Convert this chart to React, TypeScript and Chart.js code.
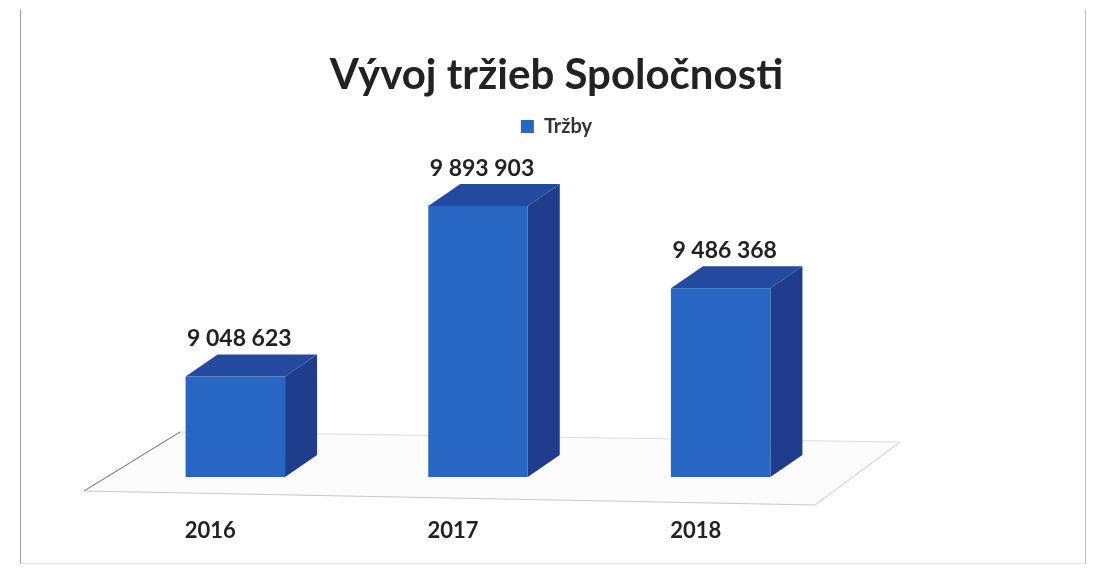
import React, { useEffect, useRef } from 'react';
import { Chart, registerables } from 'chart.js';

Chart.register(...registerables);

const titleText = 'Vývoj tržieb Spoločnosti';
const seriesLabel = 'Tržby';
const categories = ['2016', '2017', '2018'];
const revenue = [9048623, 9893903, 9486368];
const yMin = 8550000;
const yMax = 10190000;

const FRONT = '#2766c2';
const SIDE = '#1f3d8c';
const TOP = '#244a9f';
const DX = 32;
const DY = 22;

const fmt = (v: number) => String(v).replace(/\B(?=(\d{3})+(?!\d))/g, ' ');

const bar3dPlugin = {
  id: 'bar3d',
  beforeDatasetsDraw(chart: any) {
    const ctx = chart.ctx;
    const { left: L, right: R, bottom: B } = chart.chartArea;
    const fl = [L - 30, B + 14];
    const fr = [R - 27, B + 28];
    const br = [R + 58, B - 35];
    const bl = [L + 66, B - 45];
    ctx.save();
    ctx.beginPath();
    ctx.moveTo(fl[0], fl[1]);
    ctx.lineTo(fr[0], fr[1]);
    ctx.lineTo(br[0], br[1]);
    ctx.lineTo(bl[0], bl[1]);
    ctx.closePath();
    ctx.fillStyle = '#fcfcfc';
    ctx.fill();
    ctx.lineWidth = 1;
    const seg = (a: number[], b: number[], c: string) => {
      ctx.beginPath();
      ctx.moveTo(a[0], a[1]);
      ctx.lineTo(b[0], b[1]);
      ctx.strokeStyle = c;
      ctx.stroke();
    };
    seg(fl, bl, '#666');
    seg(fl, fr, '#c8c8c8');
    seg(fr, br, '#c8c8c8');
    seg(bl, br, '#dddddd');

    const meta = chart.getDatasetMeta(0);
    const b = chart.scales.y.getPixelForValue(yMin);
    meta.data.forEach((el: any) => {
      const p = el.getProps(['x', 'y', 'width'], true);
      const l = p.x - p.width / 2;
      const r = p.x + p.width / 2;
      const t = p.y;
      ctx.beginPath();
      ctx.moveTo(r, t);
      ctx.lineTo(r + DX, t - DY);
      ctx.lineTo(r + DX, b - DY);
      ctx.lineTo(r, b);
      ctx.closePath();
      ctx.fillStyle = SIDE;
      ctx.fill();
      ctx.beginPath();
      ctx.moveTo(l, t);
      ctx.lineTo(l + DX, t - DY);
      ctx.lineTo(r + DX, t - DY);
      ctx.lineTo(r, t);
      ctx.closePath();
      ctx.fillStyle = TOP;
      ctx.fill();
    });
    ctx.restore();
  },
  afterDatasetsDraw(chart: any) {
    const ctx = chart.ctx;
    const meta = chart.getDatasetMeta(0);
    ctx.save();
    ctx.font = 'bold 23px Lato';
    ctx.fillStyle = '#222';
    ctx.textAlign = 'center';
    ctx.textBaseline = 'alphabetic';
    meta.data.forEach((el: any, i: number) => {
      const p = el.getProps(['x', 'y'], true);
      ctx.fillText(fmt(revenue[i]), p.x + 4, p.y - DY - 8);
    });
    ctx.restore();
  },
};

export default function App() {
  const ref = useRef<HTMLCanvasElement | null>(null);
  useEffect(() => {
    if (!ref.current) return;
    const chart = new Chart(ref.current, {
      type: 'bar',
      data: {
        labels: categories,
        datasets: [
          {
            label: seriesLabel,
            data: revenue,
            backgroundColor: FRONT,
            borderWidth: 0,
            barPercentage: 0.41,
            categoryPercentage: 1,
          },
        ],
      },
      options: {
        responsive: false,
        animation: false,
        layout: { padding: { left: 20, right: 0, top: 0, bottom: 34 } },
        plugins: {
          title: {
            display: true,
            text: titleText,
            color: '#222',
            font: { family: 'Lato', size: 42, weight: 'bold' },
            padding: { top: 50, bottom: 6 },
          },
          legend: {
            display: true,
            labels: {
              color: '#333',
              font: { family: 'Lato', size: 20, weight: 'bold' },
              boxWidth: 13,
              boxHeight: 13,
            },
          },
          tooltip: { enabled: false },
        },
        scales: {
          x: {
            grid: { display: false, drawTicks: false },
            border: { display: false },
            ticks: {
              color: '#222',
              font: { family: 'Lato', size: 22, weight: 'bold' },
              padding: 41,
              labelOffset: -25,
            },
            afterFit: (s: any) => {
              s.height = 67;
            },
          },
          y: {
            display: true,
            position: 'left',
            min: yMin,
            max: yMax,
            grid: { display: false, drawTicks: false },
            border: { display: false },
            ticks: { display: false },
            afterFit: (s: any) => {
              s.width = 94;
            },
          },
          y2: {
            type: 'linear',
            display: true,
            position: 'right',
            grid: { display: false, drawTicks: false },
            border: { display: false },
            ticks: { display: false },
            afterFit: (s: any) => {
              s.width = 251;
            },
          },
        },
      },
      plugins: [bar3dPlugin],
    });
    return () => chart.destroy();
  }, []);
  return (
    <div style={{ position: 'fixed', left: 0, top: 0, width: 1093, height: 578, background: '#fff' }}>
      <div
        style={{
          position: 'absolute',
          left: 20,
          top: 10,
          width: 1064,
          height: 553,
          borderLeft: '1px solid #999',
          borderRight: '1px solid #bbb',
          borderBottom: '1px solid #e2e2e2',
        }}
      />
      <canvas ref={ref} width={1093} height={578} style={{ position: 'absolute', left: 0, top: 0 }} />
    </div>
  );
}
